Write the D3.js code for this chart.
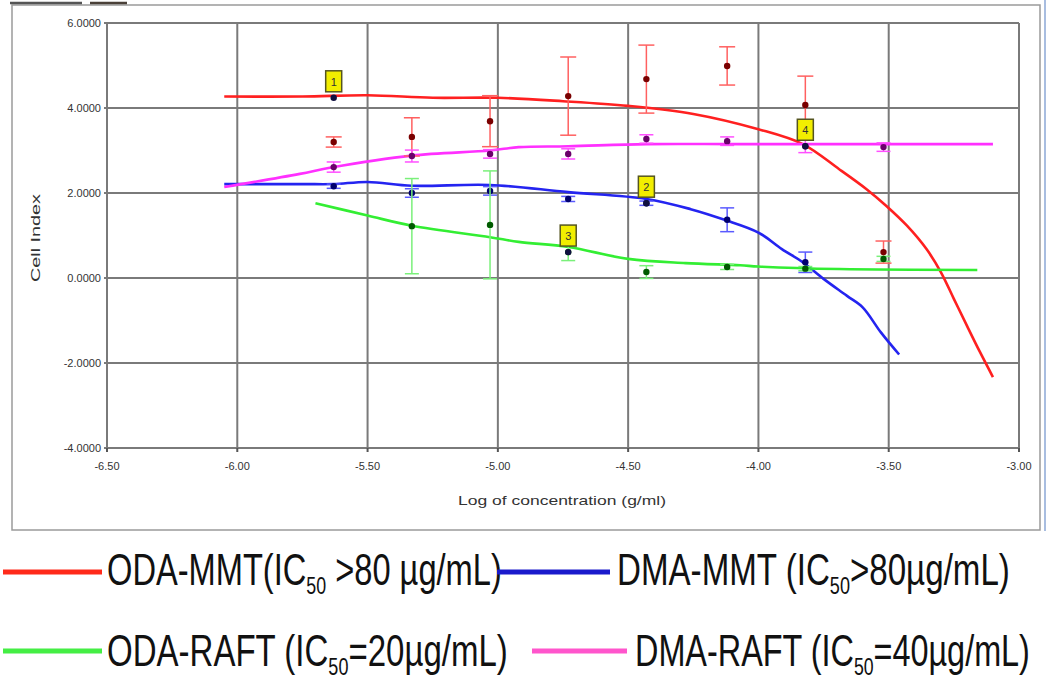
<!DOCTYPE html>
<html>
<head>
<meta charset="utf-8">
<script src="https://cdn.jsdelivr.net/npm/d3@7"></script>
<style>
  body { margin: 0; background: #fff; }
  svg { display: block; font-family: "Liberation Sans", Arial, sans-serif; }
</style>
</head>
<body>
<svg id="chart" width="1062" height="682"></svg>
<script>
// ---- Dose-response data: cell index vs log10 concentration (g/ml) ----
const logConc = [-5.63, -5.33, -5.03, -4.73, -4.43, -4.12, -3.82, -3.52];

const seriesNames = ["ODA-MMT", "DMA-MMT", "ODA-RAFT", "DMA-RAFT"];
const ic50Text = [" >80 µg/mL)", ">80µg/mL)", "=20µg/mL)", "=40µg/mL)"];

// measured means and standard deviations
const odaMmtMean = [3.20, 3.32, 3.69, 4.28, 4.68, 4.99, 4.07, 0.61];
const odaMmtErr  = [0.12, 0.45, 0.60, 0.92, 0.80, 0.45, 0.68, 0.26];
const dmaMmtMean = [2.16, 2.00, 2.05, 1.86, 1.76, 1.37, 0.37, null];
const dmaMmtErr  = [0.05, 0.10, 0.10, 0.06, 0.05, 0.28, 0.24, null];
const odaRaftMean = [null, 1.22, 1.25, 0.61, 0.14, 0.26, 0.22, 0.45];
const odaRaftErr  = [null, 1.12, 1.27, 0.20, 0.15, 0.06, 0.05, 0.06];
const dmaRaftMean = [2.61, 2.87, 2.92, 2.92, 3.27, 3.22, 3.10, 3.08];
const dmaRaftErr  = [0.12, 0.14, 0.10, 0.12, 0.10, 0.10, 0.15, 0.10];

// fitted dose-response curves
const odaMmtFitX = [-6.05, -5.75, -5.50, -5.25, -5.00, -4.75, -4.50, -4.25, -4.00, -3.83, -3.69, -3.585, -3.51, -3.43, -3.355, -3.30, -3.25, -3.20, -3.15, -3.10];
const odaMmtFitY = [4.27, 4.27, 4.30, 4.24, 4.24, 4.16, 4.05, 3.86, 3.50, 3.15, 2.56, 2.09, 1.70, 1.23, 0.68, 0.14, -0.49, -1.12, -1.74, -2.33];
const dmaMmtFitX = [-6.05, -5.75, -5.63, -5.50, -5.33, -5.03, -4.73, -4.43, -4.26, -4.13, -4.00, -3.91, -3.83, -3.75, -3.66, -3.60, -3.53, -3.46];
const dmaMmtFitY = [2.21, 2.21, 2.21, 2.26, 2.17, 2.19, 2.02, 1.86, 1.62, 1.37, 1.07, 0.68, 0.37, -0.02, -0.42, -0.69, -1.28, -1.80];
const odaRaftFitX = [-5.70, -5.50, -5.33, -5.03, -4.92, -4.73, -4.50, -4.28, -4.07, -4.00, -3.69, -3.16];
const odaRaftFitY = [1.76, 1.47, 1.23, 0.96, 0.85, 0.73, 0.45, 0.35, 0.30, 0.27, 0.21, 0.19];
const dmaRaftFitX = [-6.05, -5.76, -5.64, -5.33, -5.03, -4.92, -4.73, -4.43, -4.07, -3.38, -3.10];
const dmaRaftFitY = [2.14, 2.45, 2.60, 2.88, 3.00, 3.08, 3.10, 3.15, 3.15, 3.15, 3.15];

// numbered curve markers
const markerIds = ["1", "2", "3", "4"];
const markerX = [-5.63, -4.43, -4.73, -3.82];
const markerY = [4.24, 1.76, 0.61, 3.10];

// axes
const xTicks = [-6.5, -6.0, -5.5, -5.0, -4.5, -4.0, -3.5, -3.0];
const xTickLabels = ["-6.50", "-6.00", "-5.50", "-5.00", "-4.50", "-4.00", "-3.50", "-3.00"];
const yTicks = [6, 4, 2, 0, -2, -4];
const yTickLabels = ["6.0000", "4.0000", "2.0000", "0.0000", "-2.0000", "-4.0000"];

// ---- drawing ----
const svg = d3.select("#chart");
const x = d3.scaleLinear().domain([-6.5, -3.0]).range([107, 1019]);
const y = d3.scaleLinear().domain([-4, 6]).range([448, 23]);

// outer frame
svg.append("rect").attr("x", 12).attr("y", 5).attr("width", 1028).attr("height", 525)
  .attr("fill", "none").attr("stroke", "#9a9a9a").attr("stroke-width", 1.5);
svg.append("line").attr("x1", 1045).attr("x2", 1045).attr("y1", 0).attr("y2", 531)
  .attr("stroke", "#a8bde0").attr("stroke-width", 2);
svg.append("line").attr("x1", 10).attr("x2", 82).attr("y1", 3).attr("y2", 3)
  .attr("stroke", "#555").attr("stroke-width", 2.5);
svg.append("line").attr("x1", 90).attr("x2", 127).attr("y1", 3).attr("y2", 3)
  .attr("stroke", "#4a4038").attr("stroke-width", 2.5);

// grid
const grid = svg.append("g");
grid.selectAll("line.v").data(xTicks).join("line")
  .attr("x1", d => x(d)).attr("x2", d => x(d)).attr("y1", y(6)).attr("y2", y(-4))
  .attr("stroke", "#7a7a7a").attr("stroke-width", 2);
grid.selectAll("line.h").data(yTicks).join("line")
  .attr("x1", x(-6.5) - 3).attr("x2", x(-3.0)).attr("y1", d => y(d)).attr("y2", d => y(d))
  .attr("stroke", "#7a7a7a").attr("stroke-width", 2);
grid.selectAll("line.xt").data(xTicks).join("line")
  .attr("x1", d => x(d)).attr("x2", d => x(d)).attr("y1", y(-4)).attr("y2", y(-4) + 4)
  .attr("stroke", "#555").attr("stroke-width", 2);

// tick labels
svg.append("g").selectAll("text").data(yTicks).join("text")
  .attr("x", x(-6.5) - 6).attr("y", d => y(d)).attr("dy", "0.35em")
  .attr("text-anchor", "end").attr("font-size", 11).attr("fill", "#333")
  .text((d, i) => yTickLabels[i]);
svg.append("g").selectAll("text").data(xTicks).join("text")
  .attr("x", d => x(d)).attr("y", 470)
  .attr("text-anchor", "middle").attr("font-size", 11).attr("fill", "#333")
  .text((d, i) => xTickLabels[i]);

// axis titles
svg.append("text").attr("x", 562).attr("y", 505).attr("text-anchor", "middle")
  .attr("font-size", 13).attr("fill", "#333")
  .attr("textLength", 208).attr("lengthAdjust", "spacingAndGlyphs")
  .text("Log of concentration (g/ml)");
svg.append("text").attr("transform", "translate(40,238) rotate(-90)").attr("text-anchor", "middle")
  .attr("font-size", 13).attr("fill", "#333")
  .attr("textLength", 88).attr("lengthAdjust", "spacingAndGlyphs")
  .text("Cell Index");

// series
const series = [
  { mean: odaMmtMean, err: odaMmtErr, fx: odaMmtFitX, fy: odaMmtFitY, line: "#ff2020", bar: "#ff6060", dot: "#7a0000", cap: 8 },
  { mean: dmaMmtMean, err: dmaMmtErr, fx: dmaMmtFitX, fy: dmaMmtFitY, line: "#2424f0", bar: "#5a5aff", dot: "#00006e", cap: 7 },
  { mean: odaRaftMean, err: odaRaftErr, fx: odaRaftFitX, fy: odaRaftFitY, line: "#33ee33", bar: "#7af07a", dot: "#005a00", cap: 7 },
  { mean: dmaRaftMean, err: dmaRaftErr, fx: dmaRaftFitX, fy: dmaRaftFitY, line: "#ff30ff", bar: "#ff50ff", dot: "#6a006a", cap: 7 }
];

const lineGen = d3.line().x(d => x(d[0])).y(d => y(d[1])).curve(d3.curveCatmullRom.alpha(0.5));
const curves = svg.append("g");
series.forEach(s => {
  curves.append("path").attr("d", lineGen(s.fx.map((v, i) => [v, s.fy[i]])))
    .attr("fill", "none").attr("stroke", s.line).attr("stroke-width", 2.6);
});

const pts = svg.append("g");
series.forEach(s => {
  const data = logConc.map((c, i) => ({ c, m: s.mean[i], e: s.err[i] })).filter(d => d.m !== null);
  const g = pts.append("g");
  g.selectAll("line.eb").data(data).join("line")
    .attr("x1", d => x(d.c)).attr("x2", d => x(d.c))
    .attr("y1", d => y(d.m - d.e)).attr("y2", d => y(d.m + d.e))
    .attr("stroke", s.bar).attr("stroke-width", 1.5);
  ["lo", "hi"].forEach(k => {
    g.selectAll("line.c" + k).data(data).join("line")
      .attr("x1", d => x(d.c) - s.cap).attr("x2", d => x(d.c) + s.cap)
      .attr("y1", d => y(k === "lo" ? d.m - d.e : d.m + d.e))
      .attr("y2", d => y(k === "lo" ? d.m - d.e : d.m + d.e))
      .attr("stroke", s.bar).attr("stroke-width", 1.5);
  });
  g.selectAll("circle").data(data).join("circle")
    .attr("cx", d => x(d.c)).attr("cy", d => y(d.m)).attr("r", 3.2)
    .attr("fill", s.dot);
});

// numbered markers
const mk = svg.append("g");
markerIds.forEach((id, i) => {
  const cx = x(markerX[i]), cy = y(markerY[i]);
  mk.append("circle").attr("cx", cx).attr("cy", cy).attr("r", 3.2).attr("fill", "#101040");
  mk.append("rect").attr("x", cx - 8).attr("y", cy - 27).attr("width", 16).attr("height", 21)
    .attr("fill", "#f2ee00").attr("stroke", "#555520").attr("stroke-width", 1.5);
  mk.append("text").attr("x", cx).attr("y", cy - 12).attr("text-anchor", "middle")
    .attr("font-size", 11).attr("fill", "#333").text(id);
});

// legend
const legendColors = ["#ff2a1a", "#1a1acc", "#44ee44", "#ff55cc"];
const legendPos = [
  { lx1: 3, lx2: 102, ly: 572, tx: 107, base: 585, w: 395, sep: "" },
  { lx1: 497, lx2: 610, ly: 572, tx: 617, base: 585, w: 393, sep: " " },
  { lx1: 3, lx2: 102, ly: 651, tx: 107, base: 666, w: 401, sep: " " },
  { lx1: 532, lx2: 627, ly: 651, tx: 635, base: 666, w: 395, sep: " " }
];
const lg = svg.append("g");
seriesNames.forEach((name, i) => {
  const p = legendPos[i];
  lg.append("line").attr("x1", p.lx1).attr("x2", p.lx2).attr("y1", p.ly).attr("y2", p.ly)
    .attr("stroke", legendColors[i]).attr("stroke-width", 5);
  const t = lg.append("text").attr("font-size", 44).attr("fill", "#111");
  t.append("tspan").text(name + p.sep + "(IC");
  t.append("tspan").attr("font-size", 24).attr("dy", 9).text("50");
  t.append("tspan").attr("dy", -9).text(ic50Text[i]);
  const bw = t.node().getBBox().width;
  t.attr("transform", `translate(${p.tx},${p.base}) scale(${p.w / bw},1)`);
});
</script>
</body>
</html>
